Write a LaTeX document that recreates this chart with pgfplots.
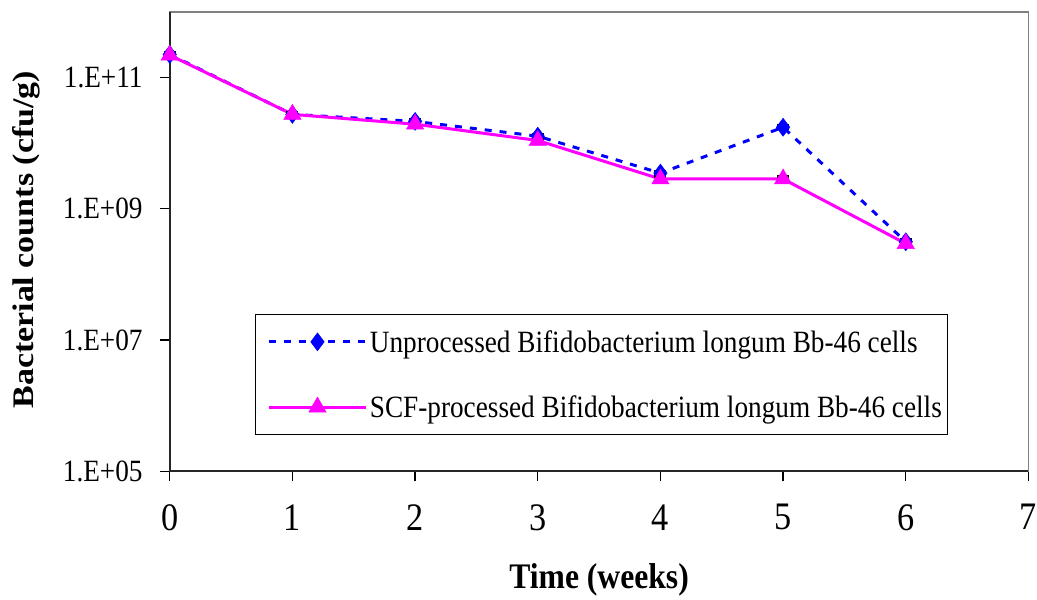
\documentclass[border=0pt]{standalone}
\usepackage{fontspec}
\setmainfont{Liberation Serif}[FakeStretch=0.88]
\newfontfamily\yfont{Liberation Serif}
\usepackage{pgfplots}
\pgfplotsset{compat=1.18}
\usepackage{graphicx}
\definecolor{ublue}{RGB}{0,0,255}
\definecolor{scfmag}{RGB}{255,0,255}
\begin{document}
\begin{tikzpicture}
\begin{axis}[
  scale only axis,
  width=860pt, height=460pt,
  at={(0pt,0pt)}, anchor=south west,
  xmin=0, xmax=7, ymode=log, ymin=1e5, ymax=1e12,
  xtick={0,1,2,3,4,5,6,7},
  xticklabels={\mbox{0},\mbox{1},\mbox{2},\mbox{3},\mbox{4},\mbox{5},\mbox{6},\mbox{7}},
  ytick={1e5,1e7,1e9,1e11},
  yticklabels={\mbox{1.E+05},\mbox{1.E+07},\mbox{1.E+09},\mbox{1.E+11}},
  minor ytick={}, 
  yminorticks=false,
  xtick pos=bottom, ytick pos=left,
  tick align=outside,
  major tick length=10pt,
  tick style={black, line width=1.3pt},
  axis line style={draw=black!50, line width=1.5pt},
  xticklabel style={font=\fontsize{39}{46}\selectfont, inner sep=0pt, anchor=north, yshift=-23pt},
  yticklabel style={font=\fontsize{31}{37}\selectfont, inner sep=0pt, anchor=east, xshift=-17pt},
  xlabel={Time (weeks)},
  xlabel style={font=\fontsize{36}{42}\selectfont\bfseries, at={(axis description cs:0.5,-0.237)}, anchor=center},
  ylabel={\scalebox{1}[0.88]{\yfont\fontsize{34}{40}\selectfont\bfseries Bacterial counts (cfu/g)}},
  ylabel style={at={(axis description cs:-0.1674,0.504)}, anchor=center, rotate=0},
  clip=false,
  legend style={at={(axis description cs:0.0988,0.343)}, anchor=north west,
    draw=black, line width=1pt, fill=white,
    font=\fontsize{31}{37}\selectfont,
    inner xsep=4pt, inner ysep=14pt, row sep=38pt,
    /tikz/every even column/.append style={column sep=6pt}},
  legend cell align=left,
  legend image code/.code={\path (0pt,0pt); \draw[mark repeat=2,mark phase=2,#1] plot coordinates {(8pt,0pt) (57pt,0pt) (106pt,0pt)};},
]
\addplot[ublue, line width=3pt, dash pattern=on 7pt off 8pt,
  mark=diamond*, mark size=9pt, mark options={solid, fill=ublue, draw=ublue, line width=0.5pt},
  error bars/.cd, y dir=both, y explicit,
  error bar style={black, line width=2.5pt, solid}, error mark options={black, line width=2.5pt, mark size=6pt, rotate=90}]
coordinates {
(0,2.25e11) +- (0,0.2e11)
(1,2.75e10) +- (0,0.2e10)
(2,2.15e10) +- (0,0.15e10)
(3,1.28e10) +- (0,0.1e10)
(4,3.5e9) +- (0,0.3e9)
(5,1.75e10) +- (0,0.1e10)
(6,3.15e8) +- (0,0.25e8)
};
\addlegendentry{Unprocessed Bifidobacterium longum Bb-46 cells}
\addplot[scfmag, line width=3pt,
  mark=triangle*, mark size=10pt, mark options={solid, fill=scfmag, draw=scfmag, line width=0.5pt},
  error bars/.cd, y dir=both, y explicit,
  error bar style={black, line width=2.5pt, solid}, error mark options={black, line width=2.5pt, mark size=6pt, rotate=90}]
coordinates {
(0,2.2e11) +- (0,0.2e11)
(1,2.75e10) +- (0,0.2e10)
(2,1.95e10) +- (0,0.15e10)
(3,1.1e10) +- (0,0.1e10)
(4,2.85e9) +- (0,0.25e9)
(5,2.85e9) +- (0,0.25e9)
(6,2.95e8) +- (0,0.25e8)
};
\addlegendentry{SCF-processed Bifidobacterium longum Bb-46 cells\rule[-18pt]{0pt}{1pt}}
\draw[black!85, line width=1.6pt] (rel axis cs:0,1) -- (rel axis cs:0,0) -- (rel axis cs:1,0);
\end{axis}
\useasboundingbox (-170pt,-128pt) rectangle (867pt,472pt);
\end{tikzpicture}
\end{document}
